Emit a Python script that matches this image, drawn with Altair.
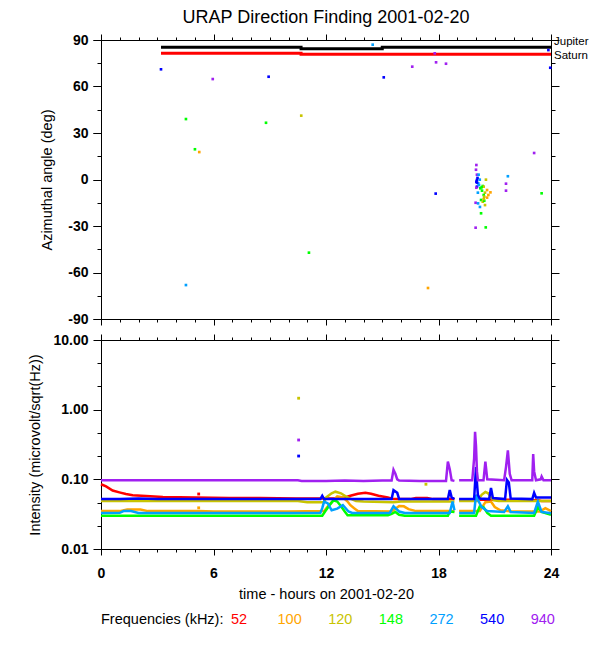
import altair as alt
import pandas as pd

FONT = "Liberation Sans"
FREQS = ["52", "100", "120", "148", "272", "540", "940"]
COLORS = ["#ff0000", "#ffa500", "#c8c400", "#00ff00", "#00a0ff", "#0000ff", "#a020f0"]

# ---------------- top panel: planet directions ----------------
jup_hours = [3.2, 10.67, 10.67, 15.0, 15.0, 24.0]
jup_angle = [85.3, 85.3, 84.4, 84.4, 85.3, 85.3]
sat_hours = [3.2, 10.67, 10.67, 24.0]
sat_angle = [81.4, 81.4, 80.8, 80.8]

# ---------------- top panel: direction-finding points ----------------
pt_hours = [3.2, 5.96, 8.94, 14.49, 15.08, 16.6, 17.87, 18.4, 17.8, 23.86, 23.96,
            4.53, 8.8, 10.68, 5.01, 5.24, 11.09, 4.53, 17.44, 17.85,
            21.6, 21.6, 21.7, 23.1, 23.5,
            20.02, 20.0, 20.05, 20.05, 20.14, 20.12, 20.05, 20.02, 20.2, 20.1,
            20.23, 20.36, 20.32, 20.41, 20.53, 20.59, 20.77, 20.48, 20.41, 20.44,
            20.59, 20.66, 20.27, 20.36, 20.44, 20.41, 20.48, 19.98, 20.11, 20.21,
            20.27, 19.98, 20.52, 20.02, 20.16, 20.05, 20.08, 20.3]
pt_angle = [71.1, 64.8, 66.3, 87.0, 65.9, 72.8, 75.6, 74.7, 81.4, 83.5, 72.1,
            39.0, 36.6, 41.2, 19.5, 17.7, -47.2, -68.1, -70.0, -9.1,
            -2.7, -7.2, 2.1, 17.1, -8.9,
            9.35, 6.3, 3.1, -0.3, 3.1, -2.5, -4.6, -5.3, -0.1, -8.5,
            -5.7, -4.2, -7.2, -4.6, -0.1, -6.8, -8.3, -8.5, -10.0, -11.1,
            -11.7, -10.0, -13.2, -14.3, -13.7, -12.6, -16.5, -15.0, -15.4, -17.7,
            -21.8, -31.1, -30.9, -1.4, -3.6, -2.0, 1.0, -5.0]
pt_freq = ["540", "940", "540", "272", "540", "940", "940", "940", "940", "540", "540",
           "148", "148", "120", "148", "100", "148", "272", "100", "540",
           "940", "940", "272", "940", "148",
           "940", "940", "940", "540", "272", "272", "540", "940", "272", "272",
           "148", "148", "148", "120", "120", "100", "100", "120", "148", "120",
           "100", "100", "148", "120", "148", "120", "120", "940", "272", "272",
           "148", "940", "148", "540", "272", "540", "540", "148"]

# ---------------- bottom panel: intensity time series ----------------
t52 = [0, 0.27, 0.62, 0.98, 1.33, 1.69, 2.4, 3.3, 5.07, 6.84, 8.5, 10.4, 12.6, 13.0, 13.3,
       13.7, 14.1, 14.4, 14.8, 15.3, 15.6, 16.5, 16.8, 17.4, 17.7, 18.85,
       19.1, 21.9, 22.5, 23.3, 23.5, 24]
v52 = [0.085, 0.079, 0.069, 0.065, 0.0616, 0.059, 0.0577, 0.0558, 0.055, 0.054, 0.054, 0.053,
       0.053, 0.055, 0.058, 0.062, 0.064, 0.062, 0.058, 0.055, 0.052, 0.052, 0.054, 0.054,
       0.052, 0.052, 0.051, 0.051, 0.051, 0.05, 0.049, 0.049]

t100 = [0, 1.0, 1.4, 2.1, 2.5, 4, 5.2, 6, 8, 10, 11.9, 12.1, 12.4, 12.6, 12.9, 13.15, 13.3,
        13.5, 13.7, 15.5, 15.9, 16.15, 16.4, 16.8, 18.85,
        19.1, 20.2, 20.5, 20.8, 21.0, 21.3, 21.9, 23.4, 23.7, 24]
v100 = [0.035, 0.035, 0.037, 0.037, 0.035, 0.035, 0.035, 0.0345, 0.0345, 0.0345, 0.035, 0.041,
        0.05, 0.057, 0.055, 0.048, 0.0426, 0.0385, 0.035, 0.0345, 0.0414, 0.041, 0.0374, 0.035,
        0.035, 0.035, 0.035, 0.047, 0.048, 0.04, 0.036, 0.0345, 0.0345, 0.0385, 0.035]

t120 = [0, 2, 4, 6, 8, 10.5, 11.0, 11.9, 12.0, 12.3, 12.5, 12.8, 13.05, 13.3, 13.6, 14, 15.6,
        16, 18.85,
        19.1, 20.1, 20.3, 20.5, 20.65, 20.8, 20.95, 21.2, 24]
v120 = [0.049, 0.049, 0.049, 0.049, 0.049, 0.049, 0.047, 0.047, 0.055, 0.063, 0.0665, 0.063,
        0.057, 0.053, 0.049, 0.048, 0.047, 0.048, 0.048,
        0.049, 0.049, 0.06, 0.066, 0.063, 0.055, 0.05, 0.049, 0.049]

t148 = [0, 2, 4, 6, 8, 10, 11.8, 11.95, 12.2, 12.4, 12.6, 12.8, 13.0, 13.15, 15.3, 15.5, 15.7,
        15.9, 16.2, 18.5, 18.6, 18.85,
        19.1, 20.0, 20.2, 20.4, 20.6, 20.8, 23.1, 23.3, 23.5, 24]
v148 = [0.030, 0.030, 0.030, 0.030, 0.030, 0.030, 0.030, 0.0345, 0.043, 0.050, 0.048, 0.041,
        0.0345, 0.0305, 0.0305, 0.032, 0.034, 0.031, 0.030, 0.030, 0.0345, 0.034,
        0.030, 0.030, 0.041, 0.04, 0.033, 0.030, 0.030, 0.040, 0.034, 0.031]

t272 = [0, 1.0, 1.2, 1.6, 2.0, 4, 6, 8, 10, 11.7, 11.8, 11.9, 12.1, 12.3, 12.6, 12.9, 13.2,
        13.4, 15.4, 15.6, 15.9, 16.2, 18.6, 18.75, 18.85,
        19.1, 19.9, 20.0, 20.1, 20.3, 20.6, 21.5, 21.7, 21.85, 23.1, 23.3, 23.5, 24]
v272 = [0.0328, 0.033, 0.035, 0.035, 0.033, 0.033, 0.033, 0.0328, 0.0328, 0.033, 0.0385, 0.048,
        0.045, 0.036, 0.038, 0.0426, 0.0345, 0.033, 0.033, 0.041, 0.0345, 0.033, 0.033, 0.048,
        0.036,
        0.033, 0.033, 0.06, 0.051, 0.04, 0.035, 0.034, 0.041, 0.034, 0.033, 0.048, 0.034, 0.0325]

t540 = [0, 1, 2, 3, 4, 6, 8, 10, 11.7, 11.8, 11.9, 15.5, 15.6, 15.8, 15.9, 18.5, 18.6, 18.7,
        18.85,
        19.1, 19.9, 20.0, 20.05, 20.1, 20.2, 20.7, 20.8, 20.9, 21.55, 21.65, 21.75, 21.85, 23.0,
        23.1, 23.2, 23.5, 24]
v540 = [0.052, 0.052, 0.053, 0.052, 0.052, 0.052, 0.052, 0.052, 0.052, 0.058, 0.052, 0.052,
        0.070, 0.064, 0.052, 0.052, 0.070, 0.055, 0.052,
        0.052, 0.052, 0.15, 0.09, 0.06, 0.053, 0.052, 0.075, 0.054, 0.052, 0.098, 0.09, 0.053,
        0.052, 0.064, 0.055, 0.055, 0.055]

t940 = [0, 2, 4, 6, 8, 10.5, 10.7, 12, 13, 14, 15, 15.5, 15.6, 15.7, 15.8, 15.9, 17, 18.4,
        18.5, 18.6, 18.7, 18.85,
        19.1, 19.8, 19.9, 19.95, 20.0, 20.05, 20.1, 20.4, 20.5, 20.6, 21.5, 21.6, 21.7, 21.8,
        21.9, 23.0, 23.05, 23.1, 23.2, 23.45, 23.5, 23.6, 24]
v940 = [0.097, 0.097, 0.097, 0.097, 0.097, 0.097, 0.095, 0.095, 0.096, 0.095, 0.096, 0.096,
        0.137, 0.12, 0.10, 0.096, 0.095, 0.095, 0.18, 0.14, 0.097, 0.095,
        0.097, 0.097, 0.2, 0.48, 0.3, 0.13, 0.097, 0.097, 0.18, 0.1, 0.097, 0.15, 0.26, 0.12,
        0.097, 0.097, 0.23, 0.13, 0.097, 0.1, 0.11, 0.097, 0.097]

# isolated samples in the intensity panel
iso_hours = [10.54, 10.54, 10.54, 17.33, 5.21, 5.21]
iso_int = [1.46, 0.367, 0.216, 0.085, 0.0616, 0.039]
iso_freq = ["120", "940", "540", "120", "52", "100"]

GAP_START = 18.9

# ---------------- build tables ----------------
pts_df = pd.DataFrame({"t": pt_hours, "a": pt_angle, "f": pt_freq})
jup_df = pd.DataFrame({"t": jup_hours, "a": jup_angle})
sat_df = pd.DataFrame({"t": sat_hours, "a": sat_angle})
jup_lab = pd.DataFrame({"name": ["Jupiter"], "t": [jup_hours[-1]], "a": [jup_angle[-1]]})
sat_lab = pd.DataFrame({"name": ["Saturn"], "t": [sat_hours[-1]], "a": [sat_angle[-1]]})

series = {"52": (t52, v52), "100": (t100, v100), "120": (t120, v120), "148": (t148, v148),
          "272": (t272, v272), "540": (t540, v540), "940": (t940, v940)}
rows = []
for f in FREQS:
    ts, vs = series[f]
    for t, v in zip(ts, vs):
        rows.append({"t": t, "v": v, "f": f, "seg": "a" if t < GAP_START else "b"})
ser_df = pd.DataFrame(rows)
iso_df = pd.DataFrame({"t": iso_hours, "v": iso_int, "f": iso_freq})
leg_df = pd.DataFrame({"f": FREQS, "pos": [7.36 + i * 2.7 for i in range(len(FREQS))]})
leg_head = pd.DataFrame({"label": ["Frequencies (kHz):"], "pos": [0.0]})

# ---------------- scales / axes ----------------
color_scale = alt.Scale(domain=FREQS, range=COLORS)
x_scale = alt.Scale(domain=[0, 24], nice=False, zero=False)
ya_scale = alt.Scale(domain=[-90, 90], nice=False, zero=False)
yi_scale = alt.Scale(type="log", domain=[0.01, 10], nice=False)

W = 450
H_TOP = 279
H_BOT = 209

MAJ_X = [0, 6, 12, 18, 24]
MIN_X = list(range(25))
MAJ_A = [-90, -60, -30, 0, 30, 60, 90]
MIN_A = list(range(-90, 91, 15))
MAJ_I = [0.01, 0.1, 1, 10]
MIN_I = [0.02154, 0.04642, 0.2154, 0.4642, 2.154, 4.642]


def tick_axis(orient, values, size, domain=True):
    return alt.Axis(orient=orient, values=values, tickSize=size, labels=False,
                    domain=domain, grid=False, title=None)


def frame_layers(df, yfield, yscale, ymaj, ymin):
    out = []
    for xo, yo in (("bottom", "left"), ("top", "right")):
        for xv, xs, yv, ys, dom in ((MAJ_X, 6, ymaj, 8, True), (MIN_X, 3, ymin, 4, False)):
            out.append(
                alt.Chart(df).mark_point(opacity=0).encode(
                    x=alt.X("t:Q", scale=x_scale, axis=tick_axis(xo, xv, xs, dom)),
                    y=alt.Y(yfield, scale=yscale, axis=tick_axis(yo, yv, ys, dom)),
                )
            )
    return out


def planet_label(df, dy):
    return alt.Chart(df).mark_text(align="left", baseline="alphabetic", dx=3, dy=dy,
                                   font=FONT, fontSize=11.5, color="black").encode(
        x=alt.X("t:Q", scale=x_scale, axis=None),
        y=alt.Y("a:Q", scale=ya_scale, axis=None),
        text="name:N",
    )


# ---------------- top panel ----------------
top_pts = alt.Chart(pts_df).mark_square(size=7, opacity=1).encode(
    x=alt.X("t:Q", scale=x_scale, axis=None),
    y=alt.Y("a:Q", scale=ya_scale,
            axis=alt.Axis(orient="left", values=MAJ_A, tickSize=8, labelPadding=5,
                          labelExpr="datum.value < 0 ? '-' + abs(datum.value) : '' + datum.value",
                          title="Azimuthal angle (deg)", titlePadding=13, grid=False)),
    color=alt.Color("f:N", scale=color_scale, legend=None),
)
jup_line = alt.Chart(jup_df).mark_line(color="black", strokeWidth=3).encode(
    x=alt.X("t:Q", scale=x_scale, axis=None), y=alt.Y("a:Q", scale=ya_scale, axis=None))
sat_line = alt.Chart(sat_df).mark_line(color="#ff0000", strokeWidth=3).encode(
    x=alt.X("t:Q", scale=x_scale, axis=None), y=alt.Y("a:Q", scale=ya_scale, axis=None))

top = alt.layer(
    *frame_layers(pts_df, "a:Q", ya_scale, MAJ_A, MIN_A),
    jup_line, sat_line, top_pts, planet_label(jup_lab, -2), planet_label(sat_lab, 5),
).resolve_axis(x="independent", y="independent").properties(
    width=W, height=H_TOP,
    title=alt.Title("URAP Direction Finding  2001-02-20", font=FONT, fontSize=18,
                    fontWeight="normal", anchor="middle", frame="group", offset=6,
                    color="black"),
)

# ---------------- bottom panel ----------------
bot_lines = alt.Chart(ser_df).mark_line(strokeWidth=2.5).encode(
    x=alt.X("t:Q", scale=x_scale,
            axis=alt.Axis(orient="bottom", values=MAJ_X, tickSize=6, labelPadding=11,
                          labelFlush=False, title="time - hours on 2001-02-20",
                          titlePadding=7, grid=False)),
    y=alt.Y("v:Q", scale=yi_scale,
            axis=alt.Axis(orient="left", values=MAJ_I, tickSize=8, labelPadding=5,
                          format=".2f", title="Intensity (microvolt/sqrt(Hz))",
                          titlePadding=10, grid=False)),
    color=alt.Color("f:N", scale=color_scale, legend=None),
    detail="seg:N",
)
bot_iso = alt.Chart(iso_df).mark_square(size=8, opacity=1).encode(
    x=alt.X("t:Q", scale=x_scale, axis=None),
    y=alt.Y("v:Q", scale=yi_scale, axis=None),
    color=alt.Color("f:N", scale=color_scale, legend=None),
)
leg_title = alt.Chart(leg_head).mark_text(align="left", baseline="middle", font=FONT,
                                          fontSize=14.5, color="black").encode(
    x=alt.X("pos:Q", scale=x_scale, axis=None),
    y=alt.value(H_BOT + 71),
    text="label:N",
)
leg_items = alt.Chart(leg_df).mark_text(align="center", baseline="middle", font=FONT,
                                        fontSize=14.5).encode(
    x=alt.X("pos:Q", scale=x_scale, axis=None),
    y=alt.value(H_BOT + 71),
    text="f:N",
    color=alt.Color("f:N", scale=color_scale, legend=None),
)

bframes = frame_layers(ser_df, "v:Q", yi_scale, MAJ_I, MIN_I)
# first frame layer (bottom/left major) is replaced by the labelled axes of bot_lines
bottom = alt.layer(
    *bframes[1:], bot_lines, bot_iso, leg_title, leg_items,
).resolve_axis(x="independent", y="independent").properties(width=W, height=H_BOT)

chart = alt.vconcat(top, bottom, spacing=5).properties(
    padding={"left": 19, "top": 0, "right": 0, "bottom": 5}
).configure_view(stroke="black", strokeWidth=1).configure_axis(
    domainColor="black", tickColor="black", labelColor="black", titleColor="black",
    labelFont=FONT, labelFontSize=14, labelFontWeight="bold",
    titleFont=FONT, titleFontSize=14.5, titleFontWeight="normal",
    domainWidth=1, tickWidth=1,
)

chart.save("out.html", embed_options={"renderer": "svg", "actions": False})
